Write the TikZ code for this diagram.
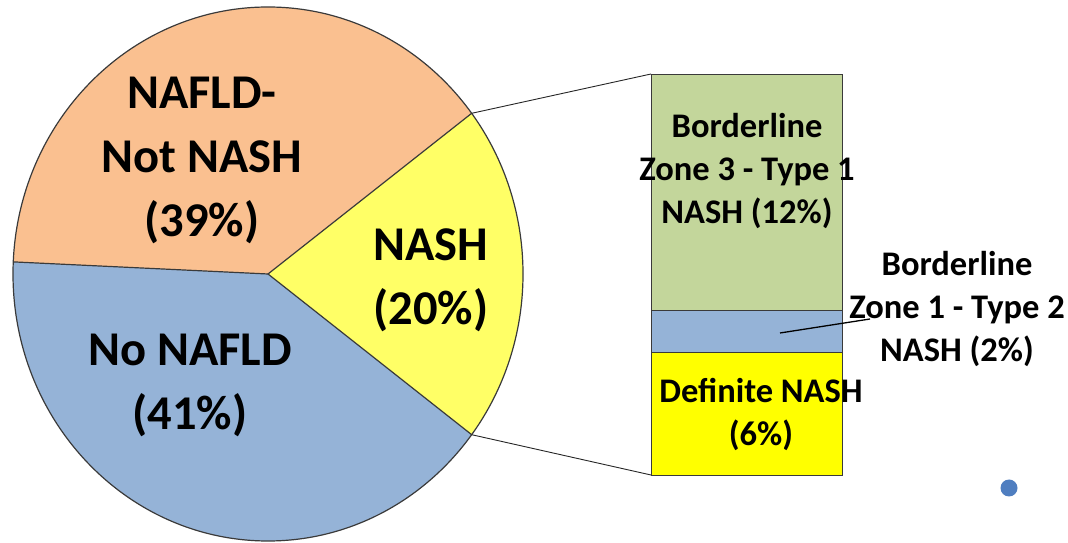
\documentclass[tikz,border=0pt]{standalone}
\usepackage{fontspec}
\usetikzlibrary{calc}
\setmainfont{Carlito}
\definecolor{orangeS}{HTML}{FAC090}
\definecolor{blueS}{HTML}{95B3D7}
\definecolor{yellowS}{HTML}{FFFF66}
\definecolor{yellowB}{HTML}{FFFF00}
\definecolor{greenB}{HTML}{C3D69B}
\definecolor{dotC}{HTML}{4F7EC0}
\definecolor{edgeC}{HTML}{3A3A3A}
\begin{document}
\begin{tikzpicture}[x=1pt,y=1pt,
  slice/.style={draw=edgeC,line width=1.2pt,line join=round},
  bigtxt/.style={font=\fontsize{48.5}{64}\selectfont\bfseries,align=center,inner sep=0pt},
  bartxt/.style={font=\fontsize{34.5}{43}\selectfont\bfseries,align=center,inner sep=0pt},
  barseg/.style={draw=edgeC,line width=0.9pt,minimum width=191pt,inner sep=0pt,outer sep=0pt},
  conn/.style={draw=black!85,line width=0.9pt}]
\useasboundingbox (0,0) rectangle (1068,543);
% pie
\coordinate (c) at (268,269);
\fill[orangeS] (c) -- ++(37:255pt and 267pt) arc[start angle=37,end angle=177.4,x radius=255pt,y radius=267pt] -- cycle;
\fill[blueS] (c) -- ++(177.4:255pt and 267pt) arc[start angle=177.4,end angle=323,x radius=255pt,y radius=267pt] -- cycle;
\fill[yellowS] (c) -- ++(-37:255pt and 267pt) arc[start angle=-37,end angle=37,x radius=255pt,y radius=267pt] -- cycle;
\coordinate (p1) at ($(c)+(37:255pt and 267pt)$);
\coordinate (p2) at ($(c)+(-37:255pt and 267pt)$);
\coordinate (p3) at ($(c)+(177.4:255pt and 267pt)$);
\draw[slice] (p1) -- (c) -- (p2);
\draw[slice] (c) -- (p3);
\draw[slice] (c) ellipse[x radius=255pt,y radius=267pt];
% bar
\node[barseg,fill=greenB,minimum height=236pt] (g) at (746.5,351) {};
\node[barseg,fill=blueS,minimum height=42pt] (b) at (746.5,212) {};
\node[barseg,fill=yellowB,minimum height=123pt] (y) at (746.5,129.5) {};
\draw[conn] (p1) -- (g.north west);
\draw[conn] (p2) -- (y.south west);
% labels
\node[bigtxt] (l1) at (202,383) {NAFLD-\\Not NASH\\(39\%)};
\node[bigtxt] (l2) at (431,263) {NASH\\(20\%)};
\node[bigtxt] (l3) at (190,158) {No NAFLD\\(41\%)};
\node[bartxt] (t1) at (747,372) {Borderline\\Zone 3 - Type 1\\NASH (12\%)};
\node[bartxt] (t2) at (957,234) {Borderline\\Zone 1 - Type 2\\NASH (2\%)};
\node[bartxt] (t3) at (761,128.5) {Definite NASH\\(6\%)};
\coordinate (lb) at (780,210);
\coordinate (le) at (870,224);
\draw[black,line width=1.3pt] (lb) -- (le);
% dot
\fill[dotC] (1009,55) circle[radius=8.5pt];
\end{tikzpicture}
\end{document}
